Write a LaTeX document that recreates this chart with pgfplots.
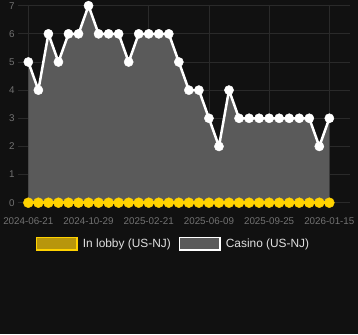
\documentclass[border=0pt]{standalone}
\usepackage{fontspec}
\setmainfont{Liberation Sans}
\usepackage{pgfplots}
\usepackage{pgfplotstable}
\pgfplotsset{compat=1.18}
\definecolor{bg}{HTML}{111111}
\definecolor{gridc}{HTML}{2A2A2A}
\definecolor{tickc}{HTML}{727272}
\definecolor{fillgray}{HTML}{5A5A5A}
\definecolor{ylw}{HTML}{FFD200}
\definecolor{ylwfill}{HTML}{B8960C}
\definecolor{legtxt}{HTML}{E0E0E0}
\pgfplotstableread{
x y
0 5
1 4
2 6
3 5
4 6
5 6
6 7
7 6
8 6
9 6
10 5
11 6
12 6
13 6
14 6
15 5
16 4
17 4
18 3
19 2
20 4
21 3
22 3
23 3
24 3
25 3
26 3
27 3
28 3
29 2
30 3
}\casino
\pgfplotstableread{
x y
0 0
1 0
2 0
3 0
4 0
5 0
6 0
7 0
8 0
9 0
10 0
11 0
12 0
13 0
14 0
15 0
16 0
17 0
18 0
19 0
20 0
21 0
22 0
23 0
24 0
25 0
26 0
27 0
28 0
29 0
30 0
}\lobby
\begin{document}
\begin{tikzpicture}
\fill[bg] (-18pt,-131.3pt) rectangle (340pt,202.7pt);
\begin{axis}[
  at={(0,0)}, anchor=south west,
  width=332pt, height=197pt, scale only axis,
  xmin=-1.03, xmax=32.06, ymin=0, ymax=7,
  clip=false,
  axis line style={draw=none},
  major tick length=0pt,
  grid=major,
  major grid style={draw=gridc, line width=0.8pt},
  ytick={0,1,2,3,4,5,6,7},
  xtick={0,6,12,18,24,30},
  xticklabels={2024-06-21,2024-10-29,2025-02-21,2025-06-09,2025-09-25,2026-01-15},
  /pgf/number format/assume math mode=true,
  ticklabel style={font=\fontsize{9.8}{11}\selectfont, text=tickc},
  xticklabel style={yshift=-11pt},
  yticklabel style={xshift=0pt},
  legend columns=2,
  legend style={at={(axis description cs:0.0533,-0.2096)}, anchor=west,
    draw=none, fill=none, inner sep=0pt, text=legtxt,
    font=\fontsize{11.9}{13}\selectfont,
    /tikz/every odd column/.append style={column sep=3pt},
    /tikz/every even column/.append style={column sep=6pt}},
  legend cell align=left,
]
\addplot[fill=fillgray, draw=none, forget plot] table[x=x,y=y]{\casino} \closedcycle;
\addplot[white, line width=2.5pt, mark=*, mark size=4.6pt, mark options={line width=0.4pt, fill=white}, forget plot] table[x=x,y=y]{\casino};
\addplot[ylw, line width=2.5pt, mark=*, mark size=5pt, mark options={line width=0.4pt, fill=ylw}, forget plot] table[x=x,y=y]{\lobby};
\addlegendimage{legend image code/.code={\draw[draw=ylw, fill=ylwfill, line width=1.5pt] (0.75pt,-6.25pt) rectangle (41.25pt,6.25pt);}}
\addlegendentry{In lobby (US-NJ)}
\addlegendimage{legend image code/.code={\draw[draw=white, fill=fillgray, line width=1.5pt] (0.75pt,-6.25pt) rectangle (41.25pt,6.25pt);}}
\addlegendentry{Casino (US-NJ)}
\end{axis}
\pgfresetboundingbox
\path (-18pt,-131.3pt) rectangle (340pt,202.7pt);
\end{tikzpicture}
\end{document}
